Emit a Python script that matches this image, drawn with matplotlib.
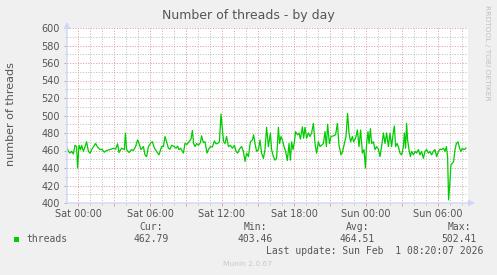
import matplotlib
matplotlib.use('Agg')
import matplotlib.pyplot as plt
import matplotlib.ticker as ticker

# minutes since Sat 00:00 and the thread count
minutes = [
    -55, -48, -40, -32, -23, -15, -7, -2, 5, 13, 18, 27, 35, 43, 52, 60, 68, 82, 88, 98,
    110, 118, 132, 143, 160, 177, 188, 198, 205, 218, 232, 237, 243, 255, 268, 277, 288, 298, 305, 315,
    327, 335, 343, 352, 365, 372, 382, 393, 405, 418, 427, 435, 443, 452,
    460, 468, 482, 490, 498, 505, 513, 522, 527, 535, 545, 555, 565, 572, 578, 585, 593, 602, 612, 618,
    627, 635, 645, 652, 662, 672, 682, 690, 698, 707, 715, 722, 728, 735, 743, 752, 762, 772, 782, 790,
    798, 810, 818, 827, 835, 843, 852, 862, 872, 878, 885, 893, 902, 910, 918, 927, 935, 943, 952,
    962, 968, 977, 985, 993, 1002, 1008, 1015, 1022, 1030, 1038, 1047, 1055, 1062, 1068, 1075, 1082, 1088, 1097, 1105,
    1112, 1122, 1128, 1135, 1143, 1152, 1160, 1168, 1177, 1185, 1193, 1202, 1210, 1218, 1227, 1235, 1242, 1248, 1257, 1265,
    1277, 1288, 1297, 1305, 1315, 1323, 1332, 1340, 1348, 1355, 1363, 1372, 1378, 1388, 1397, 1405, 1413, 1422, 1430, 1437,
    1443, 1450, 1455, 1462, 1468, 1477, 1485, 1493, 1502, 1510, 1518, 1527, 1535, 1543, 1552, 1560, 1568, 1577, 1582, 1588,
    1595, 1602, 1610, 1618, 1627, 1632, 1638, 1643, 1648, 1655, 1662, 1668, 1677, 1685, 1693, 1702, 1710, 1718, 1727, 1735,
    1743, 1752, 1760, 1768, 1777, 1785, 1793, 1802, 1810, 1818, 1827, 1835, 1842, 1848, 1853, 1858, 1865, 1872, 1878, 1885,
    1892, 1900, 1908, 1915, 1922, 1928, 1935, 1940,
]
threads = [
    463, 459, 457, 459, 456, 466, 464.5, 440, 466, 461, 466, 459, 464.5, 470, 459, 457, 461, 466, 468, 464,
    461, 461.5, 458, 460, 461, 462.6, 461.5, 467.6, 457.7, 462.6, 461, 480, 461, 457.7, 461, 460, 464.5, 472, 468, 461,
    464.5, 455, 453, 464.5, 469, 470, 462.6, 459, 455, 464.5, 464.5, 476, 470, 462.6,
    461.5, 466, 464.5, 462.6, 465, 461, 462.6, 459, 457, 468, 467, 470, 473, 483, 468, 464.5, 468, 466, 469, 476.7,
    469, 470, 457, 461, 464.5, 464, 471, 467.6, 468, 470, 501.7, 483.5, 470, 468, 476, 464.5, 466, 462.6, 466, 459,
    457, 462.6, 464.5, 459, 447.5, 457, 453, 470, 472, 478, 468, 459, 461, 472, 457, 451, 461, 486.5, 464.5,
    480, 461, 453, 449, 451, 486.5, 468, 476, 472, 464.5, 459, 448.6, 468, 449, 470, 461, 470, 481.6, 478, 480,
    473, 487, 474, 486.5, 474, 480, 476, 480, 491, 468, 457, 470, 464.5, 466, 468, 481.6, 464.5, 490, 468, 476,
    476.7, 478, 491, 466, 455, 459, 468, 476, 502.4, 480, 470, 476, 470, 474, 483.5, 464.5, 483.5, 457, 461, 440,
    468, 481.6, 468, 485, 468, 470, 461, 464.5, 461.5, 453, 464.5, 480, 468, 480, 464.5, 480, 464.5, 481.6, 488, 464.5,
    468, 464.5, 457, 455, 464.5, 480, 462.6, 491, 472, 461, 453, 459, 455, 459, 457, 461, 455, 459, 451, 459,
    461, 457, 459, 455, 459, 461, 453, 459, 461.5, 461, 462.6, 459, 464.5, 453, 403.5, 419, 443.7, 445.6, 447.5, 461,
    468, 470, 462.6, 459, 462.6, 461, 461.5, 462.8,
]

tick_labels = {0: 'Sat 00:00', 360: 'Sat 06:00', 720: 'Sat 12:00',
               1080: 'Sat 18:00', 1440: 'Sun 00:00', 1800: 'Sun 06:00'}

stat_names = ['Cur:', 'Min:', 'Avg:', 'Max:']
stat_values = ['462.79', '403.46', '464.51', '502.41']

W, H = 497, 275
BG = '#F0F0F0'
TXT = '#555555'
AXIS = '#CFD6F8'


def fx(px):
    return px / W


def fy(py):
    return 1 - py / H


fig = plt.figure(figsize=(W / 100, H / 100), dpi=100, facecolor=BG)
ax = fig.add_axes([fx(67), fy(203), 401 / W, 175 / H])
ax.set_facecolor('white')

ax.plot(minutes, threads, color='#00CC00', lw=0.9, zorder=3)

ax.set_xlim(-55, 1950)
ax.set_ylim(400, 600)

# grid: red major lines, grey minor lines, both dotted
ax.xaxis.set_major_locator(ticker.MultipleLocator(180))
ax.xaxis.set_minor_locator(ticker.MultipleLocator(60))
ax.yaxis.set_major_locator(ticker.MultipleLocator(20))
ax.yaxis.set_minor_locator(ticker.MultipleLocator(10))
ax.xaxis.set_major_formatter(ticker.FuncFormatter(lambda v, p: tick_labels.get(int(round(v)), '')))

ax.grid(True, which='major', color='#E09C9C', lw=0.72, linestyle=(0, (1, 1.6)))
ax.grid(True, which='minor', color='#BEBEBE', lw=0.72, linestyle=(0, (1, 1.6)))

for s in ax.spines.values():
    s.set_visible(False)

ax.tick_params(axis='both', which='major', labelsize=7, labelcolor=TXT, length=2, width=0.7)
ax.tick_params(axis='x', which='major', color='#E09C9C', pad=2.5)
ax.tick_params(axis='y', which='major', color='#B0B0B0', pad=3)
ax.tick_params(axis='both', which='minor', length=1.5, width=0.7, color='#C8C8C8')

# axis lines with arrow heads
arrow = dict(arrowstyle='-|>,head_length=0.35,head_width=0.18', color=AXIS, lw=1.0,
             shrinkA=0, shrinkB=0)
ax.annotate('', xy=(0, 1 + 6 / 175), xytext=(0, 0), xycoords='axes fraction',
            arrowprops=arrow, annotation_clip=False)
ax.annotate('', xy=(1 + 7 / 401, 0), xytext=(0, 0), xycoords='axes fraction',
            arrowprops=arrow, annotation_clip=False)

fig.text(fx(248.5), fy(15), 'Number of threads - by day', ha='center', va='center',
         fontsize=9, color=TXT)
fig.text(fx(11), fy(114.5), 'number of threads', rotation=90, ha='center', va='center',
         fontsize=8, color=TXT)
fig.text(fx(487.5), fy(53), 'RRDTOOL / TOBI OETIKER', rotation=-90, ha='center', va='center',
         fontsize=5.4, color='#C0C0C0')

# legend block
mono = 'DejaVu Sans Mono'
fig.patches.append(plt.Rectangle((fx(14), fy(242.3)), 5.3 / W, 5.6 / H,
                                 transform=fig.transFigure, facecolor='#00CC00', edgecolor='none'))
fig.text(fx(26.5), fy(239.5), 'threads', ha='left', va='center', fontsize=7, family=mono, color=TXT)
for right, name, val in zip([169, 273, 375, 477], stat_names, stat_values):
    fig.text(fx(right - 6), fy(227.5), name, ha='right', va='center', fontsize=7, family=mono, color=TXT)
    fig.text(fx(right), fy(239.5), val, ha='right', va='center', fontsize=7, family=mono, color=TXT)
fig.text(fx(483), fy(251), 'Last update: Sun Feb  1 08:20:07 2026', ha='right', va='center',
         fontsize=7, family=mono, color=TXT)
fig.text(fx(247.5), fy(264), 'Munin 2.0.67', ha='center', va='center', fontsize=5.4, color='#C8C8C8')

fig.savefig('out.png', dpi=100, facecolor=BG)
